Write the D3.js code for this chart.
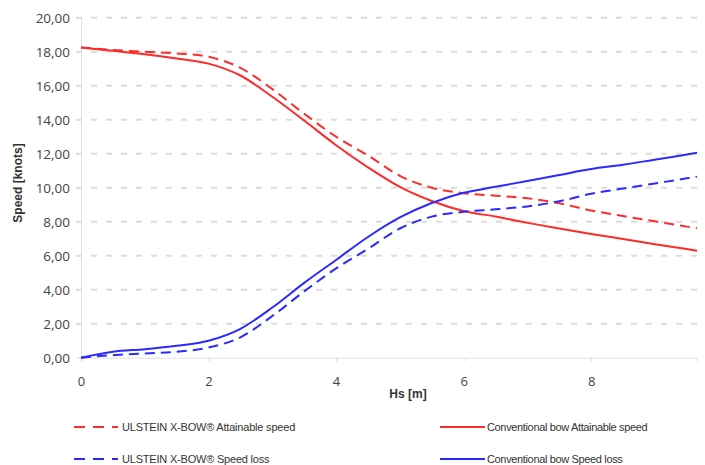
<!DOCTYPE html>
<html>
<head>
<meta charset="utf-8">
<script src="https://cdn.jsdelivr.net/npm/d3@7"></script>
<style>
  body { margin: 0; background: #fff; }
  text { font-family: "Liberation Sans", Arial, sans-serif; }
</style>
</head>
<body>
<div id="chart"></div>
<script>
const w = 705;
const h = 465;

// wave height Hs [m]
const hs = [0, 0.5, 1, 1.5, 2, 2.5, 3, 3.5, 4, 4.5, 5, 5.5, 6, 6.5, 7, 7.5, 8, 8.5, 9, 9.5, 9.66];

const xbowSpeed = [18.25, 18.1, 18.0, 17.9, 17.7, 17.05, 15.8, 14.35, 13.0, 11.9, 10.7, 10.0, 9.68, 9.53, 9.38, 9.08, 8.66, 8.33, 8.02, 7.71, 7.61];
const convSpeed = [18.25, 18.05, 17.85, 17.6, 17.3, 16.6, 15.35, 13.95, 12.5, 11.2, 10.05, 9.22, 8.63, 8.3, 7.93, 7.6, 7.28, 6.98, 6.68, 6.39, 6.29];
const xbowLoss = [0, 0.15, 0.25, 0.35, 0.6, 1.2, 2.45, 3.9, 5.25, 6.4, 7.6, 8.3, 8.58, 8.73, 8.9, 9.2, 9.65, 9.95, 10.25, 10.55, 10.65];
const convLoss = [0, 0.35, 0.5, 0.7, 1.0, 1.7, 2.95, 4.4, 5.75, 7.1, 8.25, 9.1, 9.7, 10.05, 10.4, 10.75, 11.1, 11.35, 11.65, 11.95, 12.06];

const yTicks = [0, 2, 4, 6, 8, 10, 12, 14, 16, 18, 20];
const xTicks = [0, 2, 4, 6, 8];

const series = [
  { name: "ULSTEIN X-BOW® Attainable speed", values: xbowSpeed, color: "#ff2a2a", dash: "10,6" },
  { name: "Conventional bow Attainable speed", values: convSpeed, color: "#ff2a2a", dash: null },
  { name: "ULSTEIN X-BOW® Speed loss", values: xbowLoss, color: "#2a2aff", dash: "10,6" },
  { name: "Conventional bow Speed loss", values: convLoss, color: "#2a2aff", dash: null }
];

const x = d3.scaleLinear().domain([0, 9.66]).range([81, 697]);
const y = d3.scaleLinear().domain([0, 20]).range([357.7, 17.7]);
const fmt = d => d3.format(".2f")(d).replace(".", ",");

const svg = d3.select("#chart").append("svg")
  .attr("width", w)
  .attr("height", h);

svg.append("rect").attr("width", w).attr("height", h).attr("fill", "#fff");

// grid
svg.append("g")
  .selectAll("line")
  .data(yTicks.filter(d => d > 0))
  .enter()
  .append("line")
  .attr("x1", 76)
  .attr("x2", 697)
  .attr("y1", d => y(d))
  .attr("y2", d => y(d))
  .attr("stroke", "#dcdcdc")
  .attr("stroke-width", 2)
  .attr("stroke-dasharray", "6,9");

// axes
let yAxis = svg.append("g")
  .attr("transform", "translate(81,0)")
  .call(d3.axisLeft(y).tickValues(yTicks).tickFormat(fmt).tickSize(4).tickPadding(7));
yAxis.select(".domain").attr("stroke", "#e2e2e2");
yAxis.selectAll(".tick line").attr("stroke", "#dcdcdc");
yAxis.selectAll("text")
  .attr("font-size", 13.5)
  .attr("fill", "#444")
  .style("font-family", "'Open Sans', 'Liberation Sans', sans-serif");

let xAxis = svg.append("g")
  .attr("transform", `translate(0,${y(0)})`)
  .call(d3.axisBottom(x).tickValues(xTicks).tickFormat(d3.format("d")).tickSize(4).tickPadding(15));
xAxis.select(".domain").attr("stroke", "#e2e2e2");
xAxis.selectAll(".tick line").attr("stroke", "#dcdcdc");
xAxis.selectAll("text")
  .attr("font-size", 13)
  .attr("fill", "#444")
  .style("font-family", "'Open Sans', 'Liberation Sans', sans-serif");

svg.append("text")
  .text("Hs [m]")
  .attr("x", 408)
  .attr("y", 398)
  .attr("text-anchor", "middle")
  .attr("font-size", 12)
  .attr("font-weight", "bold")
  .attr("fill", "#333");

svg.append("text")
  .text("Speed [knots]")
  .attr("transform", "translate(22,183) rotate(-90)")
  .attr("text-anchor", "middle")
  .attr("font-size", 12)
  .attr("font-weight", "bold")
  .attr("fill", "#333");

// lines
let line = d3.line()
  .x((d, i) => x(hs[i]))
  .y(d => y(d))
  .curve(d3.curveMonotoneX);

svg.append("g")
  .selectAll("path")
  .data(series)
  .enter()
  .append("path")
  .attr("d", d => line(d.values))
  .attr("fill", "none")
  .attr("stroke", d => d.color)
  .attr("stroke-width", 2)
  .attr("stroke-dasharray", d => d.dash);

// legend
let legend = svg.append("g")
  .selectAll("g")
  .data(series)
  .enter()
  .append("g")
  .attr("transform", (d, i) => `translate(${i % 2 ? 440 : 74},${i < 2 ? 427 : 459})`);

legend.append("line")
  .attr("x1", 0)
  .attr("x2", d => (d.dash ? 44 : 45))
  .attr("stroke", d => d.color)
  .attr("stroke-width", 2)
  .attr("stroke-dasharray", d => (d.dash ? "11,8" : null));

legend.append("text")
  .text(d => d.name)
  .attr("x", d => (d.dash ? 48 : 47))
  .attr("y", 4)
  .attr("font-size", 11)
  .attr("letter-spacing", d => (d.dash ? -0.2 : -0.35))
  .attr("fill", "#333");
</script>
</body>
</html>
